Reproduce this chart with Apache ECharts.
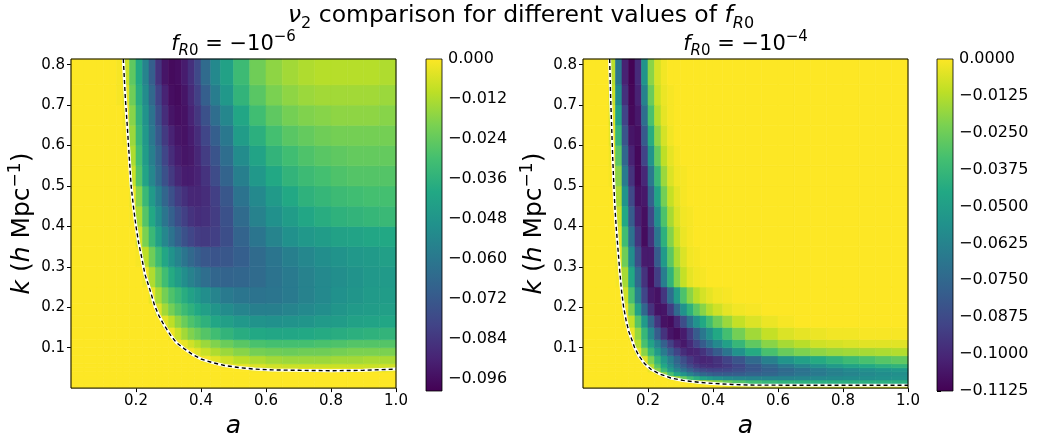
<!DOCTYPE html>
<html><head><meta charset="utf-8">
<script src="https://cdn.jsdelivr.net/npm/echarts@6/dist/echarts.min.js"></script>
<style>html,body{margin:0;padding:0;background:#fff}#c{width:1041px;height:444px}</style>
</head><body><div id="c"></div>
<script>
// ---------------- data ----------------
const kMax = 0.814;
// cell edges in a (scale factor) and k (h/Mpc)
const aEdges = [0,0.04,0.08,0.10,0.12,0.14,0.16,0.18,0.20,0.22,0.24,0.26,0.28,0.30,0.32,0.34,0.36,0.38,0.40,0.43,0.46,0.50,0.55,0.60,0.65,0.70,0.75,0.80,0.85,0.90,0.95,1.00];
const kEdges = [0,0.01,0.02,0.03,0.04,0.05,0.06,0.08,0.10,0.12,0.15,0.18,0.21,0.25,0.30,0.35,0.40,0.45,0.50,0.55,0.60,0.65,0.70,0.75,kMax];
const valueUnit = 1e-3; // grid values below are nu2 in units of 1e-3
// nu2 for f_R0 = -1e-6; rows from k low to k high, columns from a low to a high
const nu2L = [
[0,0,0,0,0,0,0,0,0,0,0,0,0,0,0,0,0,0,0,0,0,0,0,0,0,0,0,0,0,0,0],
[0,0,0,0,0,0,0,0,0,0,0,0,0,0,0,0,0,0,0,0,0,0,0,0,0,0,0,0,0,0,0],
[0,0,0,0,0,0,0,0,0,0,0,0,0,0,0,0,0,0,0,0,0,0,0,0,0,0,0,0,0,0,0],
[0,0,0,0,0,0,0,0,0,0,0,0,0,0,0,0,0,0,0,0,0,0,0,0,0,0,0,0,0,0,0],
[0,0,0,0,0,0,0,0,0,0,0,0,0,0,0,0,0,0,0,0,0,0,-1,-2,-2,-2,-2,-2,-2,-2,-3],
[0,0,0,0,0,0,0,0,0,0,0,0,0,0,0,0,0,0,0,0,-1,-3,-5,-7,-8,-8,-8,-8,-8,-8,-7],
[0,0,0,0,0,0,0,0,0,0,0,0,0,0,0,0,0,0,-1,-4,-7,-10,-12,-14,-15,-15,-15,-14,-14,-13,-13],
[0,0,0,0,0,0,0,0,0,0,0,0,0,0,0,0,-1,-4,-8,-12,-15,-18,-21,-22,-23,-22,-22,-21,-20,-20,-20],
[0,0,0,0,0,0,0,0,0,0,0,0,0,0,-1,-3,-7,-11,-15,-19,-23,-26,-29,-30,-30,-30,-29,-28,-27,-27,-27],
[0,0,0,0,0,0,0,0,0,0,0,0,0,-2,-8,-14,-19,-23,-27,-31,-35,-38,-40,-41,-41,-40,-39,-38,-37,-36,-35],
[0,0,0,0,0,0,0,0,0,0,0,0,-4,-10,-17,-23,-28,-32,-36,-41,-44,-47,-49,-50,-49,-48,-46,-45,-43,-42,-41],
[0,0,0,0,0,0,0,0,0,0,0,-5,-14,-21,-27,-32,-36,-40,-44,-48,-52,-55,-57,-57,-55,-53,-51,-48,-46,-45,-44],
[0,0,0,0,0,0,0,0,0,0,-3,-13,-21,-28,-33,-38,-43,-47,-51,-55,-59,-61,-62,-61,-59,-56,-53,-50,-48,-46,-45],
[0,0,0,0,0,0,0,0,0,-2,-12,-22,-31,-39,-45,-51,-56,-60,-64,-67,-68,-67,-65,-62,-59,-56,-53,-51,-49,-47,-46],
[0,0,0,0,0,0,0,0,-1,-10,-22,-32,-41,-49,-55,-61,-66,-70,-73,-74,-73,-70,-65,-61,-57,-54,-51,-49,-47,-46,-44],
[0,0,0,0,0,0,0,0,-6,-20,-33,-44,-54,-62,-69,-75,-79,-82,-83,-81,-76,-68,-61,-55,-50,-47,-45,-43,-42,-41,-40],
[0,0,0,0,0,0,0,-1,-12,-27,-40,-51,-61,-69,-76,-81,-85,-87,-86,-82,-75,-65,-56,-50,-45,-41,-38,-36,-35,-34,-33],
[0,0,0,0,0,0,0,-2,-18,-33,-46,-57,-67,-75,-82,-86,-89,-89,-87,-81,-73,-62,-53,-46,-40,-36,-34,-32,-31,-30,-30],
[0,0,0,0,0,0,0,-8,-27,-42,-54,-65,-75,-83,-89,-92,-92,-90,-85,-77,-68,-57,-47,-40,-35,-32,-30,-28,-27,-27,-27],
[0,0,0,0,0,0,0,-12,-30,-45,-57,-68,-79,-87,-92,-94,-93,-89,-82,-74,-64,-52,-42,-35,-31,-28,-26,-25,-24,-24,-24],
[0,0,0,0,0,0,-1,-15,-33,-47,-60,-72,-83,-90,-94,-95,-92,-87,-79,-70,-60,-45,-37,-30,-26,-24,-22,-21,-21,-21,-21],
[0,0,0,0,0,0,-2,-18,-35,-49,-62,-76,-87,-94,-96,-95,-90,-84,-75,-64,-54,-41,-31,-25,-21,-19,-18,-17,-17,-17,-18],
[0,0,0,0,0,-1,-4,-22,-38,-52,-66,-80,-90,-96,-97,-94,-88,-81,-70,-58,-47,-35,-26,-20,-17,-15,-14,-14,-14,-14,-15],
[0,0,0,0,0,-1,-8,-25,-40,-55,-70,-85,-94,-97,-96,-92,-86,-78,-65,-53,-43,-32,-22,-17,-14,-12,-11,-11,-11,-11,-12]
];
// nu2 for f_R0 = -1e-4
const nu2R = [
[0,0,0,0,0,0,0,0,0,0,0,0,0,0,0,0,0,0,0,-2,-4,-5,-6,-6,-6,-6,-6,-6,-6,-6,-6],
[0,0,0,0,0,0,0,0,0,0,0,0,0,0,-1,-5,-10,-15,-20,-26,-31,-35,-38,-40,-41,-42,-42,-42,-42,-42,-42],
[0,0,0,0,0,0,0,0,0,0,0,-3,-15,-26,-35,-42,-48,-52,-56,-59,-61,-62,-62,-62,-61,-60,-59,-58,-57,-56,-55],
[0,0,0,0,0,0,0,0,0,-2,-18,-33,-45,-55,-63,-70,-75,-78,-80,-80,-79,-77,-75,-72,-69,-67,-64,-62,-60,-58,-57],
[0,0,0,0,0,0,0,0,-4,-20,-36,-50,-61,-70,-78,-84,-88,-90,-90,-89,-86,-82,-78,-74,-70,-66,-63,-60,-57,-55,-53],
[0,0,0,0,0,0,0,0,-12,-30,-45,-58,-70,-80,-88,-94,-97,-98,-97,-94,-89,-82,-75,-68,-62,-57,-52,-48,-45,-42,-40],
[0,0,0,0,0,0,0,-5,-22,-38,-52,-64,-76,-86,-94,-99,-101,-100,-96,-90,-83,-74,-64,-55,-49,-44,-40,-36,-33,-30,-28],
[0,0,0,0,0,0,-3,-20,-37,-52,-66,-79,-90,-98,-102,-101,-96,-89,-80,-69,-56,-44,-33,-26,-22,-19,-17,-16,-15,-14,-13],
[0,0,0,0,0,0,-12,-33,-48,-63,-78,-91,-101,-105,-99,-90,-80,-70,-60,-49,-38,-28,-20,-15,-12,-8,-7,-6,-5,-5,-5],
[0,0,0,0,0,-3,-18,-38,-60,-80,-96,-106,-109,-104,-93,-80,-68,-57,-45,-34,-24,-16,-10,-6,-4,-3,-2,-2,-1,-1,-1],
[0,0,0,0,-1,-10,-30,-52,-75,-95,-107,-109,-100,-86,-70,-56,-45,-35,-25,-17,-10,-6,-3,-1,0,0,0,0,0,0,0],
[0,0,0,0,-3,-22,-48,-75,-96,-107,-106,-93,-74,-56,-41,-29,-20,-13,-8,-4,-2,-1,0,0,0,0,0,0,0,0,0],
[0,0,0,0,-8,-33,-63,-89,-104,-107,-95,-72,-50,-32,-20,-12,-7,-4,-2,-1,0,0,0,0,0,0,0,0,0,0,0],
[0,0,0,-1,-15,-45,-74,-96,-108,-92,-65,-40,-21,-10,-4,-2,-1,0,0,0,0,0,0,0,0,0,0,0,0,0,0],
[0,0,0,-2,-25,-58,-86,-104,-104,-80,-52,-29,-14,-6,-2,-1,0,0,0,0,0,0,0,0,0,0,0,0,0,0,0],
[0,0,0,-4,-35,-70,-95,-109,-96,-68,-41,-21,-9,-3,-1,0,0,0,0,0,0,0,0,0,0,0,0,0,0,0,0],
[0,0,0,-8,-45,-80,-102,-108,-88,-57,-32,-15,-6,-2,-1,0,0,0,0,0,0,0,0,0,0,0,0,0,0,0,0],
[0,0,0,-14,-55,-88,-107,-105,-78,-47,-24,-10,-4,-1,0,0,0,0,0,0,0,0,0,0,0,0,0,0,0,0,0],
[0,0,-1,-20,-66,-96,-110,-100,-67,-37,-17,-6,-2,-1,0,0,0,0,0,0,0,0,0,0,0,0,0,0,0,0,0],
[0,0,-2,-29,-75,-102,-110,-90,-55,-27,-11,-4,-1,0,0,0,0,0,0,0,0,0,0,0,0,0,0,0,0,0,0],
[0,0,-4,-38,-83,-106,-108,-81,-43,-19,-7,-2,0,0,0,0,0,0,0,0,0,0,0,0,0,0,0,0,0,0,0],
[0,0,-6,-48,-90,-110,-105,-72,-33,-13,-4,-1,0,0,0,0,0,0,0,0,0,0,0,0,0,0,0,0,0,0,0],
[0,0,-9,-58,-97,-111,-102,-63,-26,-9,-3,-1,0,0,0,0,0,0,0,0,0,0,0,0,0,0,0,0,0,0,0],
[0,0,-12,-68,-102,-112,-99,-55,-20,-7,-2,0,0,0,0,0,0,0,0,0,0,0,0,0,0,0,0,0,0,0,0]
];
// dashed contour (nu2 = 0 boundary)
const contourLA = [0.161,0.167,0.173,0.177,0.185,0.192,0.200,0.208,0.217,0.228,0.243,0.257,0.270,0.282,0.295,0.308,0.325,0.349,0.372,0.400,0.435,0.472,0.515,0.564,0.620,0.700,0.800,0.900,1.000];
const contourLK = [0.814,0.720,0.650,0.600,0.500,0.450,0.400,0.360,0.325,0.280,0.243,0.205,0.180,0.162,0.145,0.129,0.112,0.097,0.084,0.072,0.063,0.056,0.051,0.047,0.045,0.044,0.043,0.044,0.047];
const contourRA = [0.082,0.085,0.088,0.091,0.094,0.098,0.102,0.107,0.112,0.118,0.125,0.133,0.141,0.150,0.159,0.172,0.190,0.210,0.236,0.270,0.308,0.360,0.410,0.460,0.510,0.700,1.000];
const contourRK = [0.814,0.720,0.650,0.580,0.520,0.450,0.400,0.350,0.300,0.245,0.200,0.166,0.140,0.120,0.100,0.080,0.060,0.046,0.035,0.025,0.019,0.014,0.011,0.009,0.0075,0.007,0.007];
// ticks
const xTicks = [0.2,0.4,0.6,0.8,1.0];
const yTicks = [0.1,0.2,0.3,0.4,0.5,0.6,0.7,0.8];
const cbMinL = -0.0998, cbMinR = -0.1125;
const cbTicksL = [0,-0.012,-0.024,-0.036,-0.048,-0.060,-0.072,-0.084,-0.096];
const cbTicksR = [0,-0.0125,-0.0250,-0.0375,-0.0500,-0.0625,-0.0750,-0.0875,-0.1000,-0.1125];

// ---------------- chart ----------------
const viridis = ['#440154','#482475','#414487','#355f8d','#2a788e','#21918c','#22a884','#44bf70','#7ad151','#bddf26','#fde725'];
const FONT = 'DejaVu Sans';

function cells(grid){
  const out = [];
  for (let r = 0; r < grid.length; r++)
    for (let c = 0; c < aEdges.length - 1; c++)
      out.push([aEdges[c], aEdges[c+1], kEdges[r], kEdges[r+1], (grid[r][c] || 0) * valueUnit]);
  return out;
}
function renderCell(params, api){
  const p0 = api.coord([api.value(0), api.value(3)]);
  const p1 = api.coord([api.value(1), api.value(2)]);
  const cs = params.coordSys;
  const rect = echarts.graphic.clipRectByRect(
    {x:p0[0], y:p0[1], width:p1[0]-p0[0], height:p1[1]-p0[1]},
    {x:cs.x, y:cs.y, width:cs.width, height:cs.height});
  if (!rect) return;
  const col = api.visual('color');
  return {type:'rect', shape:rect, style:{fill:col, stroke:col, lineWidth:0.6}};
}
function renderBar(params, api){
  const top = api.coord([0, api.value(2)]);
  const bot = api.coord([1, api.value(1)]);
  const stops = viridis.map((c,i)=>({offset: 1 - i/(viridis.length-1), color:c})).reverse();
  return {type:'rect', shape:{x:top[0], y:top[1], width:bot[0]-top[0], height:bot[1]-top[1]},
    style:{fill:new echarts.graphic.LinearGradient(0,0,0,1,stops), stroke:'#000', lineWidth:0.8}};
}
const pairs = (xs, ys) => xs.map((x,i)=>[x, ys[i]]);
const minus = s => s.replace('-', '\u2212');

const labelStyle = {fontFamily:FONT, fontSize:15, color:'#000'};
function mainX(grid){
  return {gridIndex:grid, type:'value', min:0, max:1,
    axisLine:{show:false}, splitLine:{show:false},
    axisTick:{show:true, length:4, customValues:xTicks, lineStyle:{color:'#000', width:1}},
    axisLabel:Object.assign({customValues:xTicks, margin:6, formatter:v=>v.toFixed(1)}, labelStyle),
    name:'a', nameLocation:'middle', nameGap:24,
    nameTextStyle:{fontFamily:FONT, fontSize:25, fontStyle:'italic', color:'#000'}};
}
function mainY(grid){
  return {gridIndex:grid, type:'value', min:0, max:kMax,
    axisLine:{show:false}, splitLine:{show:false},
    axisTick:{show:true, length:4, customValues:yTicks, lineStyle:{color:'#000', width:1}},
    axisLabel:Object.assign({customValues:yTicks, margin:6, formatter:v=>v.toFixed(1)}, labelStyle),
    name:'{i|k} ({i|h} Mpc{p|\u22121})', nameLocation:'middle', nameGap:31,
    nameTextStyle:{fontFamily:FONT, fontSize:25, color:'#000', lineHeight:30,
      rich:{i:{fontFamily:FONT, fontSize:25, fontStyle:'italic', color:'#000', lineHeight:30},
            p:{fontFamily:FONT, fontSize:17, color:'#000', lineHeight:17, verticalAlign:'top'}}}};
}
function cbY(grid, min, ticks, dec){
  return {gridIndex:grid, type:'value', min:min, max:0, position:'right',
    axisLine:{show:false}, splitLine:{show:false},
    axisTick:{show:true, length:4, customValues:ticks, lineStyle:{color:'#000', width:1}},
    axisLabel:Object.assign({customValues:ticks, margin:6, formatter:v=>minus(v.toFixed(dec))}, labelStyle, {fontSize:16})};
}
const hiddenX = g => ({gridIndex:g, type:'value', min:0, max:1, show:false});
function titleRich(size){
  const sub = Math.round(size*0.7);
  const base = {fontFamily:FONT, color:'#000', fontWeight:'normal'};
  return Object.assign({fontSize:size, lineHeight:size+8,
    rich:{n:Object.assign({fontSize:size, lineHeight:size+8}, base),
          i:Object.assign({fontSize:size, fontStyle:'italic', lineHeight:size+8}, base),
          s:Object.assign({fontSize:sub, lineHeight:sub, verticalAlign:'bottom'}, base),
          si:Object.assign({fontSize:sub, fontStyle:'italic', lineHeight:sub, verticalAlign:'bottom'}, base),
          p:Object.assign({fontSize:sub, lineHeight:sub, verticalAlign:'top'}, base)}}, base);
}

const chart = echarts.init(document.getElementById('c'), null, {renderer:'canvas'});
chart.setOption({
  animation:false,
  backgroundColor:'#fff',
  title:[
    {text:'{i|\u03bd}{s|2}{n| comparison for different values of }{i|f}{si|R}{s|0}', left:521, textAlign:'center', top:0, padding:0, textStyle:titleRich(23.5)},
    {text:'{i|f}{si|R}{s|0}{n| = \u221210}{p|\u22126}', left:233.5, textAlign:'center', top:30, padding:0, textStyle:titleRich(21)},
    {text:'{i|f}{si|R}{s|0}{n| = \u221210}{p|\u22124}', left:745.5, textAlign:'center', top:30, padding:0, textStyle:titleRich(21)}
  ],
  grid:[
    {left:71, top:59, width:325, height:332, show:true, z:10, backgroundColor:'transparent', borderColor:'#000', borderWidth:1},
    {left:426, top:59, width:16, height:332},
    {left:583, top:59, width:325, height:332, show:true, z:10, backgroundColor:'transparent', borderColor:'#000', borderWidth:1},
    {left:937, top:59, width:16, height:332}
  ],
  xAxis:[mainX(0), hiddenX(1), mainX(2), hiddenX(3)],
  yAxis:[mainY(0), cbY(1, cbMinL, cbTicksL, 3), mainY(2), cbY(3, cbMinR, cbTicksR, 4)],
  visualMap:[
    {type:'continuous', show:false, seriesIndex:0, dimension:4, min:cbMinL, max:0, inRange:{color:viridis}},
    {type:'continuous', show:false, seriesIndex:4, dimension:4, min:cbMinR, max:0, inRange:{color:viridis}}
  ],
  series:[
    {type:'custom', xAxisIndex:0, yAxisIndex:0, data:cells(nu2L), renderItem:renderCell, encode:{x:[0,1], y:[2,3]}, silent:true, z:1},
    {type:'line', xAxisIndex:0, yAxisIndex:0, data:pairs(contourLA, contourLK), showSymbol:false, silent:true, z:5, lineStyle:{color:'#fff', width:3}},
    {type:'line', xAxisIndex:0, yAxisIndex:0, data:pairs(contourLA, contourLK), showSymbol:false, silent:true, z:6, lineStyle:{color:'#000', width:1.4, type:[4,3]}},
    {type:'custom', xAxisIndex:1, yAxisIndex:1, data:[[0.5, cbMinL, 0]], renderItem:renderBar, encode:{x:0, y:[1,2]}, silent:true},
    {type:'custom', xAxisIndex:2, yAxisIndex:2, data:cells(nu2R), renderItem:renderCell, encode:{x:[0,1], y:[2,3]}, silent:true, z:1},
    {type:'line', xAxisIndex:2, yAxisIndex:2, data:pairs(contourRA, contourRK), showSymbol:false, silent:true, z:5, lineStyle:{color:'#fff', width:3}},
    {type:'line', xAxisIndex:2, yAxisIndex:2, data:pairs(contourRA, contourRK), showSymbol:false, silent:true, z:6, lineStyle:{color:'#000', width:1.4, type:[4,3]}},
    {type:'custom', xAxisIndex:3, yAxisIndex:3, data:[[0.5, cbMinR, 0]], renderItem:renderBar, encode:{x:0, y:[1,2]}, silent:true}
  ]
});
</script></body></html>
